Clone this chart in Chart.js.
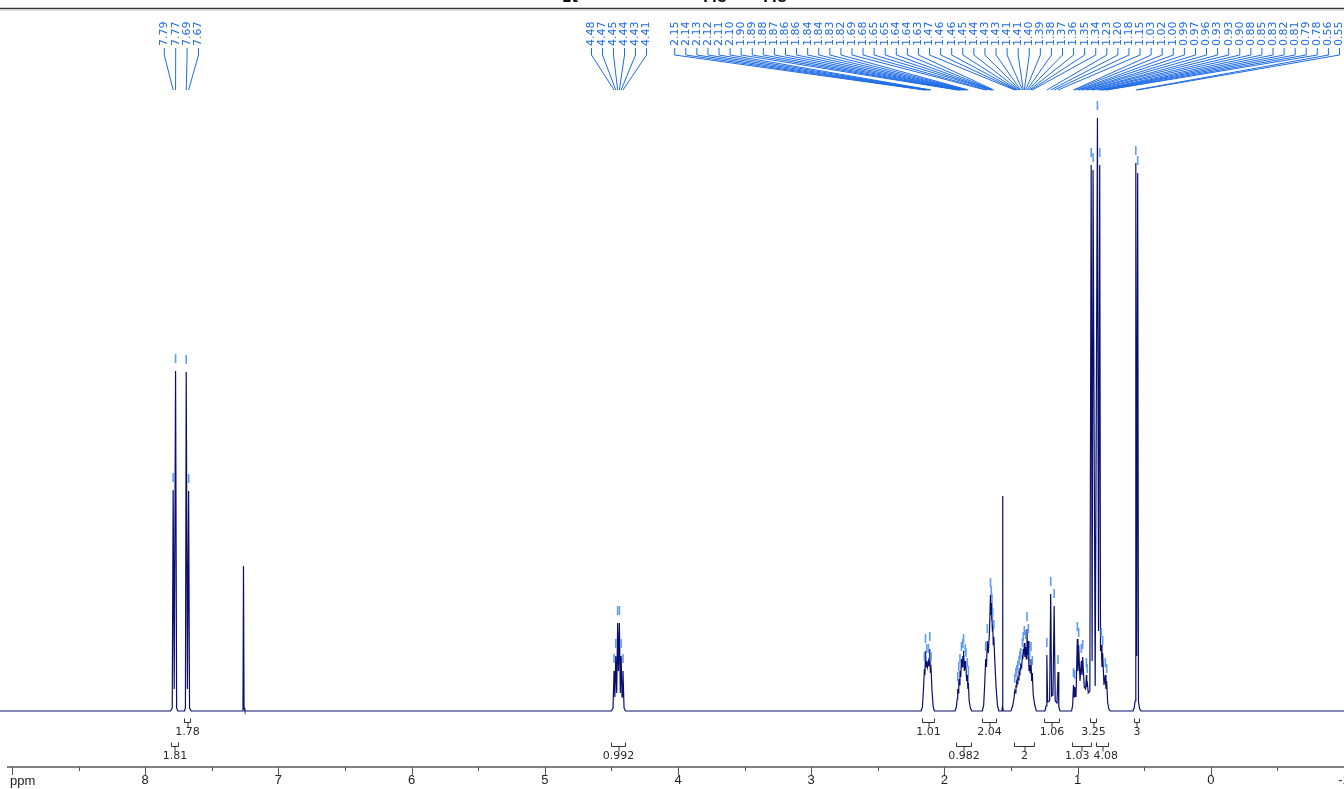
<!DOCTYPE html>
<html><head><meta charset="utf-8">
<script src="https://cdn.jsdelivr.net/npm/chart.js@4.4.1/dist/chart.umd.min.js"></script>
<style>html,body{margin:0;padding:0;background:#fff;overflow:hidden}</style>
</head><body>
<canvas id="c" width="1344" height="789"></canvas>
<script>
// ---- spectrum vertices: [ppm, intensity] ----
const aromaticSignals = [[9.10,0],[7.810,0],[7.797,3],[7.790,221],[7.782,22],[7.772,340],[7.764,3],[7.755,0],
  [7.705,0],[7.698,3],[7.692,339],[7.683,22],[7.674,220],[7.667,3],[7.655,0]];
const solventSignals = [[7.272,0],[7.266,3],[7.262,145],[7.258,3],[7.252,0]];
const methineSignals = [[4.500,0],[4.488,3],[4.480,40],[4.474,14],[4.467,55],[4.460,18],[4.453,88],[4.447,40],
  [4.440,88],[4.433,18],[4.427,55],[4.420,14],[4.413,40],[4.405,3],[4.393,0]];
const m21Signals = [[2.175,0],[2.165,4],[2.157,22],[2.150,42],[2.146,36],[2.142,60],[2.137,44],[2.133,50],[2.127,44],
  [2.120,50],[2.115,45],[2.110,62],[2.105,38],[2.100,42],[2.093,20],[2.084,4],[2.075,0]];
const m186Signals = [[1.920,0],[1.910,4],[1.904,12],[1.900,22],[1.896,18],[1.892,32],[1.887,26],[1.883,40],[1.877,34],
  [1.872,52],[1.867,44],[1.862,55],[1.859,50],[1.856,60],[1.850,40],[1.844,50],[1.841,42],[1.838,46],[1.833,30],
  [1.828,36],[1.824,22],[1.820,28],[1.814,10],[1.805,3],[1.795,0]];
const m165Signals = [[1.715,0],[1.705,6],[1.697,28],[1.690,52],[1.684,44],[1.678,70],[1.670,58],[1.662,78],[1.654,116],
  [1.651,96],[1.648,108],[1.645,90],[1.643,100],[1.640,80],[1.637,86],[1.633,66],[1.629,74],[1.621,48],[1.612,24],
  [1.602,6],[1.592,0]];
const waterSignals = [[1.568,0],[1.565,4],[1.563,215],[1.561,4],[1.558,0]];
const m14Signals = [[1.500,0],[1.488,5],[1.478,12],[1.472,20],[1.467,18],[1.463,26],[1.460,24],[1.457,29],[1.453,27],
  [1.449,33],[1.444,31],[1.440,38],[1.436,36],[1.433,43],[1.430,41],[1.427,46],[1.420,44],[1.414,56],[1.411,52],
  [1.408,62],[1.404,56],[1.400,68],[1.395,54],[1.390,64],[1.385,52],[1.380,82],[1.375,56],[1.370,70],[1.365,40],
  [1.360,46],[1.355,38],[1.350,52],[1.345,30],[1.340,38],[1.333,16],[1.322,6],[1.310,0]];
const m12Signals = [[1.245,0],[1.237,5],[1.231,56],[1.225,9],[1.210,10],[1.202,117],[1.195,15],[1.185,16],[1.176,105],
  [1.168,10],[1.155,8],[1.147,39],[1.141,4],[1.132,0]];
const m10Signals = [[1.045,0],[1.037,6],[1.031,26],[1.027,14],[1.022,24],[1.012,14],[1.002,72],[0.997,40],[0.992,66],
  [0.982,30],[0.972,50],[0.967,36],[0.962,54],[0.950,24],[0.940,22],[0.934,36],[0.931,24],[0.928,30],[0.920,18]];
const methylSignals = [[0.908,20],[0.898,546],[0.891,50],[0.884,541],[0.868,25],[0.851,593],[0.843,80],[0.834,546],
  [0.828,60],[0.822,66],[0.817,44],[0.812,58],[0.802,26],[0.792,36],[0.787,22],[0.782,30],[0.774,8],[0.765,2],[0.755,0]];
const m055Signals = [[0.585,0],[0.575,3],[0.568,10],[0.563,548],[0.556,55],[0.549,538],[0.543,10],[0.536,3],[0.525,0],[-1.05,0]];

// ---- peak picking ----
const peakLabels = ['7.79','7.77','7.69','7.67',
  '4.48','4.47','4.45','4.44','4.43','4.41',
  '2.15','2.14','2.13','2.12','2.11','2.10','1.90','1.89','1.88','1.87','1.86','1.86','1.84','1.84','1.83','1.82',
  '1.69','1.68','1.65','1.65','1.64','1.64','1.63','1.47','1.46','1.46','1.45','1.44','1.43','1.43','1.41','1.41',
  '1.40','1.39','1.38','1.37','1.36','1.35','1.34','1.23','1.20','1.18','1.15','1.03','1.02','1.00','0.99','0.97',
  '0.96','0.93','0.93','0.90','0.88','0.85','0.83','0.82','0.81','0.79','0.78','0.56','0.55'];
const peakPpm = [7.790,7.772,7.692,7.674,
  4.480,4.467,4.453,4.440,4.427,4.413,
  2.150,2.142,2.133,2.120,2.110,2.100,1.900,1.892,1.883,1.872,1.862,1.856,1.844,1.838,1.828,1.820,
  1.690,1.678,1.654,1.648,1.643,1.637,1.629,1.472,1.463,1.457,1.449,1.440,1.433,1.427,1.414,1.408,
  1.400,1.390,1.380,1.370,1.360,1.350,1.340,1.231,1.202,1.176,1.147,1.031,1.022,1.002,0.992,0.972,
  0.962,0.934,0.928,0.898,0.884,0.851,0.834,0.822,0.812,0.792,0.782,0.563,0.549];
const peakTop = [221,340,339,220,
  40,55,88,88,55,40,
  42,60,50,50,62,42,22,32,40,52,55,60,50,46,36,28,
  52,70,116,108,100,86,74,20,26,29,33,38,43,46,56,62,
  68,64,82,70,46,52,38,56,117,105,39,26,24,72,66,50,
  54,36,30,546,541,593,546,66,58,36,30,548,538];
const peakGroup = [0,0,0,0, 1,1,1,1,1,1].concat(new Array(61).fill(2));

// ---- integrals ----
const integralValues = ['1.78','1.01','2.04','1.06','3.25','3','1.81','0.992','0.982','2','1.03','4.08'];
const integralFrom = [7.71,2.17,1.72,1.25,0.91,0.58,7.805,4.50,1.91,1.48,1.04,0.86];
const integralTo   = [7.66,2.08,1.61,1.14,0.86,0.54,7.755,4.40,1.80,1.33,0.90,0.77];
const integralRow  = [0,0,0,0,0,0,1,1,1,1,1,1];

// ---- axis ----
const axisMinPpm = -1.0, axisMaxPpm = 9.03;
const axisLabelValues = [8,7,6,5,4,3,2,1,0,-1];

const spectrum = [].concat(aromaticSignals, solventSignals, methineSignals, m21Signals, m186Signals, m165Signals,
  waterSignals, m14Signals, m12Signals, m10Signals, methylSignals, m055Signals).map(p => ({x: p[0], y: p[1]}));

const BLUE = '#1e6be6', MARK = '#5c9cf5';

const nmrPlugin = {
  id: 'nmr',
  afterDatasetsDraw(chart) {
    const ctx = chart.ctx, xs = chart.scales.x, ys = chart.scales.y, area = chart.chartArea;
    const W = chart.width;
    const base = ys.getPixelForValue(0);
    ctx.save();
    ctx.strokeStyle = '#333'; ctx.lineWidth = 1.5;
    ctx.beginPath(); ctx.moveTo(0, area.top + 0.5); ctx.lineTo(W, area.top + 0.5); ctx.stroke();
    ctx.strokeStyle = '#c8c8c8'; ctx.lineWidth = 1;
    ctx.beginPath(); ctx.moveTo(0, area.top + 2); ctx.lineTo(W, area.top + 2); ctx.stroke();
    ctx.fillStyle = '#111'; ctx.font = 'bold 14px "DejaVu Sans"'; ctx.textBaseline = 'alphabetic'; ctx.textAlign = 'left';
    ctx.fillText('Et', 562, 2); ctx.fillText('Me', 703, 2); ctx.fillText('Me', 763, 2);

    const spacing = [11.4, 11, 11.08];
    const labelX = new Array(peakLabels.length);
    for (let g = 0; g < 3; g++) {
      const idx = []; peakGroup.forEach((gg, i) => { if (gg === g) idx.push(i); });
      const px = idx.map(i => xs.getPixelForValue(peakPpm[i]));
      const mean = px.reduce((a, b) => a + b, 0) / px.length;
      const sp = spacing[g], n = idx.length;
      let first = mean - (n - 1) / 2 * sp;
      if (first + (n - 1) * sp > W - 5) first = W - 5 - (n - 1) * sp;
      idx.forEach((i, k) => { labelX[i] = first + k * sp; });
    }
    ctx.font = '11px "DejaVu Sans"';
    ctx.fillStyle = BLUE; ctx.strokeStyle = BLUE; ctx.lineWidth = 1;
    peakLabels.forEach((lbl, i) => {
      const lx = labelX[i];
      ctx.save(); ctx.translate(lx + 0.5, 46); ctx.rotate(-Math.PI / 2);
      ctx.textAlign = 'left'; ctx.textBaseline = 'middle'; ctx.fillText(lbl, 0, 0); ctx.restore();
      const px = xs.getPixelForValue(peakPpm[i]);
      ctx.beginPath(); ctx.moveTo(lx + 0.5, 48); ctx.lineTo(lx + 0.5, 55); ctx.lineTo(px, 90); ctx.stroke();
    });
    ctx.strokeStyle = MARK; ctx.lineWidth = 1.6;
    peakPpm.forEach((p, i) => {
      const px = xs.getPixelForValue(p), py = ys.getPixelForValue(peakTop[i]);
      ctx.beginPath(); ctx.moveTo(px, py - 17); ctx.lineTo(px, py - 8); ctx.stroke();
    });

    // integrals: brackets + labels, labels nudged apart when they collide
    ctx.strokeStyle = '#333'; ctx.lineWidth = 1; ctx.fillStyle = '#2a2a2a';
    ctx.font = '11px "DejaVu Sans"'; ctx.textAlign = 'center'; ctx.textBaseline = 'middle';
    const items = integralValues.map((v, i) => {
      const x1 = Math.round(xs.getPixelForValue(integralFrom[i])) + 0.5;
      const x2 = Math.round(xs.getPixelForValue(integralTo[i])) + 0.5;
      return { v, x1, x2, row: integralRow[i], tx: (x1 + x2) / 2, w: ctx.measureText(v).width };
    });
    [0, 1].forEach(r => {
      const row = items.filter(it => it.row === r).sort((a, b) => a.tx - b.tx);
      for (let k = 1; k < row.length; k++) {
        const a = row[k - 1], b = row[k];
        const need = (a.w + b.w) / 2 + 4 - (b.tx - a.tx);
        if (need > 0) { a.tx -= need * 0.6; b.tx += need * 0.4; }
      }
    });
    items.forEach(it => {
      const off = it.row === 0 ? 0 : 24;
      const yh = Math.round(base + 11 + off) + 0.5;
      const mid = Math.round((it.x1 + it.x2) / 2);
      ctx.beginPath();
      ctx.moveTo(it.x1, yh - 4); ctx.lineTo(it.x1, yh); ctx.lineTo(it.x2, yh); ctx.lineTo(it.x2, yh - 4);
      ctx.moveTo(mid, yh); ctx.lineTo(mid, yh + 5);
      ctx.stroke();
      ctx.fillText(it.v, it.tx, base + 21.5 + off);
    });
    ctx.restore();
  },
  afterDraw(chart) {
    const ctx = chart.ctx, xs = chart.scales.x, area = chart.chartArea;
    ctx.save();
    ctx.strokeStyle = '#555'; ctx.lineWidth = 1;
    xs.ticks.forEach(t => {
      const x = Math.round(xs.getPixelForValue(t.value)) + 0.5;
      const len = Number.isInteger(t.value) ? 8 : 4;
      ctx.beginPath(); ctx.moveTo(x, area.bottom); ctx.lineTo(x, area.bottom + len); ctx.stroke();
    });
    ctx.fillStyle = '#222'; ctx.font = '13px "Liberation Sans Narrow", "Liberation Sans", Arial';
    ctx.textAlign = 'left'; ctx.textBaseline = 'middle';
    ctx.fillText('ppm', 10, 781);
    ctx.restore();
  }
};

new Chart(document.getElementById('c'), {
  type: 'line',
  data: { datasets: [{
    data: spectrum, borderColor: '#0a0f6e', borderWidth: 1.2, pointRadius: 0, tension: 0, fill: false, clip: false
  }]},
  options: {
    responsive: false, animation: false, devicePixelRatio: 1,
    layout: { padding: { left: 8, top: 8, right: 0, bottom: 0 } },
    plugins: { legend: { display: false }, tooltip: { enabled: false }, title: { display: false } },
    scales: {
      x: {
        type: 'linear', reverse: true, min: axisMinPpm, max: axisMaxPpm,
        grid: { display: true, drawOnChartArea: false, drawTicks: false },
        border: { display: true, color: '#808080', width: 2 },
        ticks: {
          stepSize: 0.5, includeBounds: false, autoSkip: false, maxRotation: 0, minRotation: 0, padding: 6,
          color: '#222', font: { family: '"Liberation Sans Narrow", "Liberation Sans", Arial', size: 13 },
          callback: v => axisLabelValues.includes(v) ? String(v) : ''
        },
        afterFit: s => { s.height = 22; s.paddingLeft = 0; s.paddingRight = 0; }
      },
      y: { type: 'linear', display: false, min: -56, max: 703 }
    }
  },
  plugins: [nmrPlugin]
});
</script>
</body></html>
